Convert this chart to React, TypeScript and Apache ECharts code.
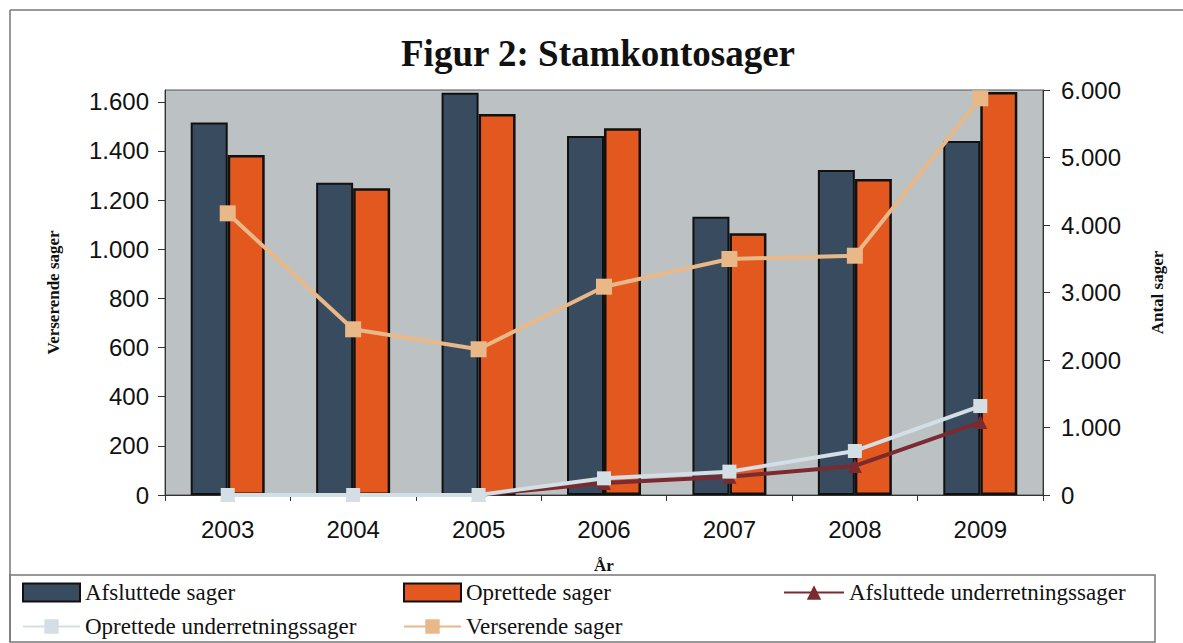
import React, { useEffect, useRef } from "react";
import * as echarts from "echarts";

const years = ["2003", "2004", "2005", "2006", "2007", "2008", "2009"];
const afsluttedeSager = [1516, 1271, 1637, 1461, 1132, 1322, 1440];
const oprettedeSager = [1383, 1248, 1550, 1492, 1065, 1286, 1640];
const afsluttedeUnderretning = [0, 0, 0, 178, 271, 430, 1080];
const oprettedeUnderretning = [0, 0, 0, 247, 346, 652, 1318];
const verserendeSager = [4173, 2455, 2159, 3086, 3496, 3545, 5877];

const fmt = (v: number) => String(v).replace(/\B(?=(\d{3})+(?!\d))/g, ".");

export default function App() {
  const ref = useRef<HTMLDivElement>(null);
  useEffect(() => {
    if (!ref.current) return;
    const chart = echarts.init(ref.current, null, { renderer: "svg" });
    const serif = "Liberation Serif";
    const sans = "Liberation Sans";
    const legendText = { fontFamily: serif, fontSize: 23, color: "#111" };
    const leg = (left: number, top: number, item: any, w = 57) => ({
      orient: "horizontal",
      left,
      top,
      padding: 0,
      itemWidth: w,
      itemHeight: 18,
      itemGap: 0,
      textStyle: legendText,
      data: [item],
    });
    chart.setOption({
      animation: false,
      backgroundColor: "#ffffff",
      title: {
        text: "Figur 2: Stamkontosager",
        left: 593,
        top: 30,
        textAlign: "center",
        textStyle: { fontFamily: serif, fontWeight: "bold", fontSize: 37, color: "#111" },
      },
      grid: {
        left: 165,
        right: 140,
        top: 90,
        bottom: 148,
        show: true,
        backgroundColor: "#bcc2c3",
        borderColor: "#555",
        borderWidth: 1,
      },
      legend: [
        leg(22, 581, { name: "Afsluttede sager", icon: "rect" }),
        leg(22, 615, "Oprettede underretningssager"),
        leg(403, 581, { name: "Oprettede sager", icon: "rect" }),
        leg(403, 615, "Verserende sager"),
        leg(783, 581, "Afsluttede underretningssager", 60),
      ],
      xAxis: {
        type: "category",
        data: years,
        name: "År",
        nameLocation: "middle",
        nameGap: 62,
        nameTextStyle: { fontFamily: serif, fontWeight: "bold", fontSize: 17, color: "#111" },
        axisLine: { lineStyle: { color: "#333", width: 1 } },
        axisTick: { show: true, length: 6, lineStyle: { color: "#333" } },
        axisLabel: { fontFamily: sans, fontSize: 24, color: "#111", margin: 22 },
      },
      yAxis: [
        {
          type: "value",
          min: 0,
          max: 1648,
          interval: 200,
          name: "Verserende sager",
          nameLocation: "middle",
          nameGap: 103,
          nameRotate: 90,
          nameTextStyle: { fontFamily: serif, fontWeight: "bold", fontSize: 17, color: "#111" },
          axisLine: { show: true, lineStyle: { color: "#333" } },
          axisTick: { show: true, length: 7, lineStyle: { color: "#333" } },
          splitLine: { show: false },
          axisLabel: {
            fontFamily: sans,
            fontSize: 24,
            color: "#111",
            margin: 16,
            showMaxLabel: false,
            formatter: (v: number) => (v % 200 === 0 ? fmt(v) : ""),
          },
        },
        {
          type: "value",
          min: 0,
          max: 6000,
          interval: 1000,
          name: "Antal sager",
          nameLocation: "middle",
          nameGap: 106,
          nameRotate: 90,
          nameTextStyle: { fontFamily: serif, fontWeight: "bold", fontSize: 17, color: "#111" },
          axisLine: { show: true, lineStyle: { color: "#333" } },
          axisTick: { show: true, length: 7, lineStyle: { color: "#333" } },
          splitLine: { show: false },
          axisLabel: { fontFamily: sans, fontSize: 24, color: "#111", margin: 18, formatter: (v: number) => fmt(v) },
        },
      ],
      series: [
        {
          name: "Afsluttede sager",
          type: "bar",
          yAxisIndex: 0,
          data: afsluttedeSager,
          barWidth: 37,
          barGap: "0%",
          itemStyle: { color: "#394b5f", borderColor: "#111", borderWidth: 2 },
        },
        {
          name: "Oprettede sager",
          type: "bar",
          yAxisIndex: 0,
          data: oprettedeSager,
          barWidth: 37,
          barGap: "0%",
          itemStyle: { color: "#e2581e", borderColor: "#111", borderWidth: 2.5 },
        },
        {
          name: "Afsluttede underretningssager",
          type: "line",
          yAxisIndex: 1,
          data: afsluttedeUnderretning,
          symbol: "triangle",
          symbolSize: 14,
          lineStyle: { color: "#7b2a30", width: 4 },
          itemStyle: { color: "#7b2a30" },
        },
        {
          name: "Oprettede underretningssager",
          type: "line",
          yAxisIndex: 1,
          data: oprettedeUnderretning,
          symbol: "rect",
          symbolSize: 14,
          lineStyle: { color: "#d3dee5", width: 4 },
          itemStyle: { color: "#d3dee5" },
        },
        {
          name: "Verserende sager",
          type: "line",
          yAxisIndex: 1,
          data: verserendeSager,
          symbol: "rect",
          symbolSize: 16,
          lineStyle: { color: "#e8b888", width: 4 },
          itemStyle: { color: "#e8b888" },
        },
      ],
      graphic: [
        { type: "line", shape: { x1: 10, y1: 10, x2: 1183, y2: 10 }, style: { stroke: "#777", lineWidth: 1.5 } },
        { type: "line", shape: { x1: 10, y1: 10, x2: 10, y2: 642 }, style: { stroke: "#777", lineWidth: 1.5 } },
        {
          type: "rect",
          shape: { x: 10, y: 575, width: 1145, height: 67 },
          style: { fill: "none", stroke: "#777", lineWidth: 1.5 },
          silent: true,
        },
      ],
    });
    return () => chart.dispose();
  }, []);
  return (
    <div
      ref={ref}
      style={{ position: "absolute", left: 0, top: 0, width: 1183, height: 643 }}
    />
  );
}
